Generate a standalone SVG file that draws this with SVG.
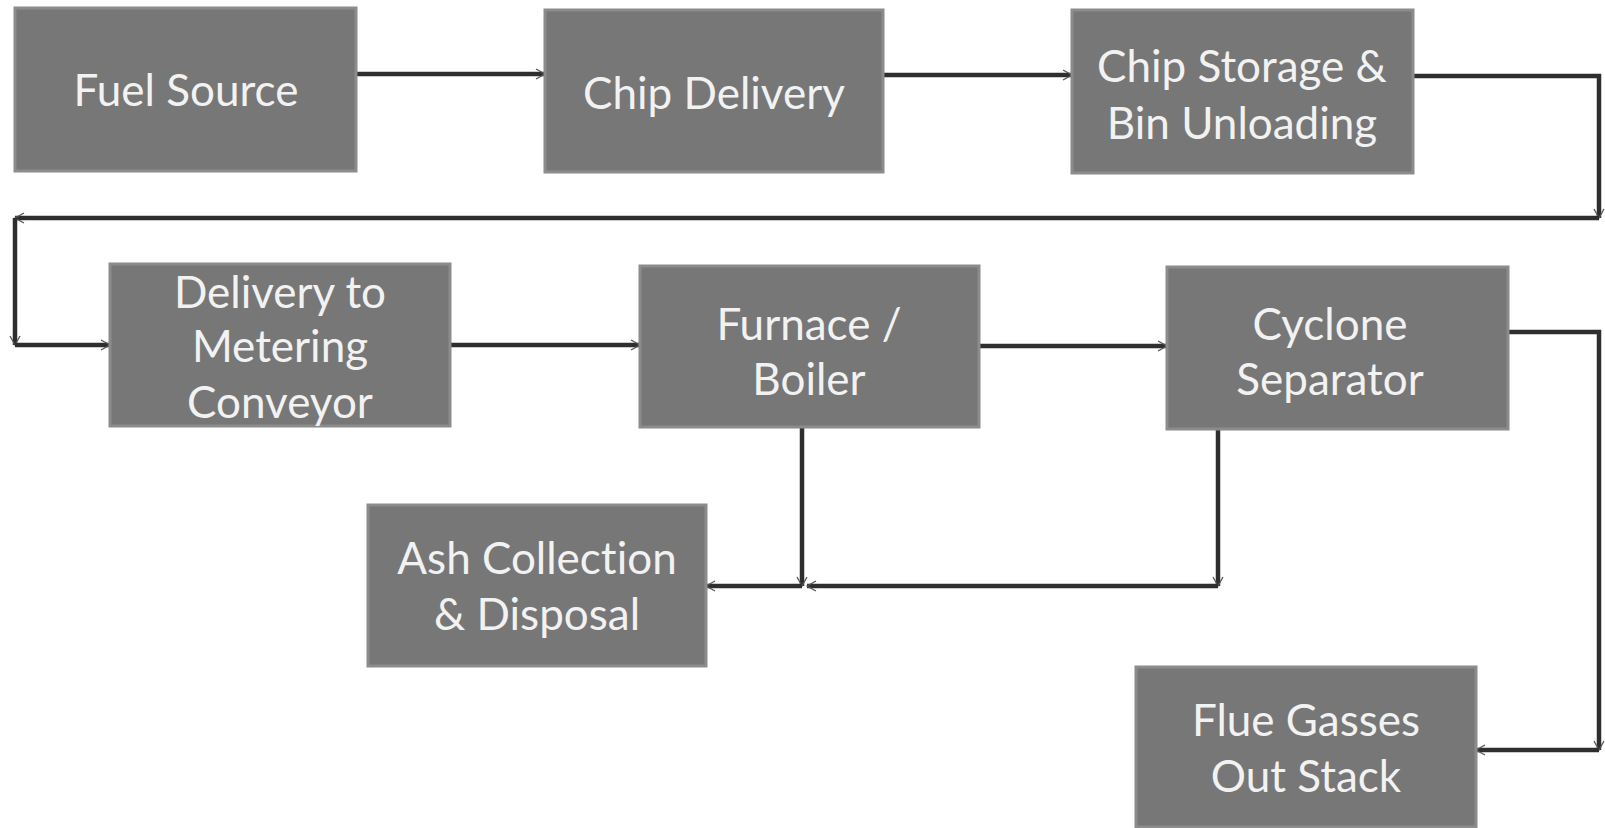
<svg xmlns="http://www.w3.org/2000/svg" width="1605" height="828" viewBox="0 0 1605 828">
<style>
.box{fill:#777777;stroke:#8c8c8c;stroke-width:3}
.lbl{font-family:Lato,"Open Sans",sans-serif;font-size:44px;fill:#f2f2f2;text-anchor:middle;font-variant-ligatures:none}
.con{fill:none;stroke:#2e2e2e;stroke-width:4.5;stroke-linejoin:miter}
</style>
<defs>
<marker id="arr" markerUnits="userSpaceOnUse" markerWidth="14" markerHeight="14" refX="11" refY="7" orient="auto">
<path d="M2,2 L11,7 L2,12" fill="none" stroke="#555" stroke-width="1.3"/>
</marker>
</defs>
<rect width="1605" height="828" fill="#fff"/>
<g id="connectors">
<path class="con" d="M356,74 H545" marker-end="url(#arr)"/>
<path class="con" d="M883,75 H1072" marker-end="url(#arr)"/>
<path class="con" d="M1413,76 H1599 V218" marker-end="url(#arr)"/>
<path class="con" d="M1599,218 H15" marker-end="url(#arr)"/>
<path class="con" d="M15,218 V345" marker-end="url(#arr)"/>
<path class="con" d="M15,345 H110" marker-end="url(#arr)"/>
<path class="con" d="M450,345 H640" marker-end="url(#arr)"/>
<path class="con" d="M979,346 H1167" marker-end="url(#arr)"/>
<path class="con" d="M1508,332 H1599 V750" marker-end="url(#arr)"/>
<path class="con" d="M1599,750 H1476" marker-end="url(#arr)"/>
<path class="con" d="M802,427 V586" marker-end="url(#arr)"/>
<path class="con" d="M802,586 H706" marker-end="url(#arr)"/>
<path class="con" d="M1218,429 V586" marker-end="url(#arr)"/>
<path class="con" d="M1218,586 H807" marker-end="url(#arr)"/>
</g>
<g id="fuel-source"><rect class="box" x="15" y="8" width="341" height="163"/><text class="lbl" x="186" y="106">Fuel Source</text></g>
<g id="chip-delivery"><rect class="box" x="545" y="10" width="338" height="162"/><text class="lbl" x="714" y="109">Chip Delivery</text></g>
<g id="chip-storage"><rect class="box" x="1072" y="10" width="341" height="163"/><text class="lbl" x="1242" y="82">Chip Storage &amp;</text><text class="lbl" x="1242" y="139">Bin Unloading</text></g>
<g id="delivery-metering"><rect class="box" x="110" y="264" width="340" height="162"/><text class="lbl" x="280" y="308">Delivery to</text><text class="lbl" x="280" y="362">Metering</text><text class="lbl" x="280" y="418">Conveyor</text></g>
<g id="furnace-boiler"><rect class="box" x="640" y="266" width="339" height="161"/><text class="lbl" x="809" y="340">Furnace /</text><text class="lbl" x="809" y="395">Boiler</text></g>
<g id="cyclone"><rect class="box" x="1167" y="267" width="341" height="162"/><text class="lbl" x="1330" y="340">Cyclone</text><text class="lbl" x="1330" y="395">Separator</text></g>
<g id="ash"><rect class="box" x="368" y="505" width="338" height="161"/><text class="lbl" x="537" y="574">Ash Collection</text><text class="lbl" x="537" y="630">&amp; Disposal</text></g>
<g id="flue"><rect class="box" x="1136" y="667" width="340" height="160"/><text class="lbl" x="1306" y="736">Flue Gasses</text><text class="lbl" x="1306" y="792">Out Stack</text></g>
</svg>
